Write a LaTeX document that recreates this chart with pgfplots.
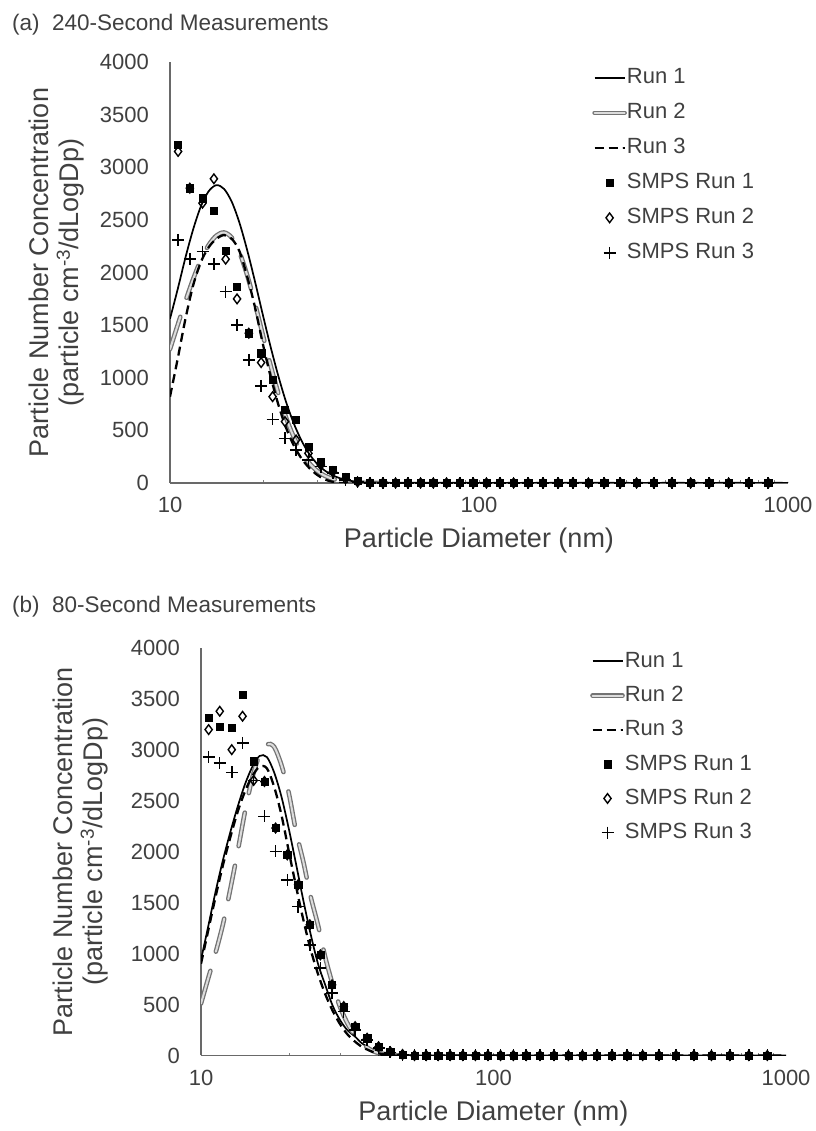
\documentclass[border=0pt]{standalone}
\usepackage{fontspec}
\setmainfont{Liberation Sans}
\usepackage{pgfplots}
\usepackage{pgfplotstable}
\pgfplotsset{compat=1.18}
\definecolor{txt}{RGB}{64,64,64}
\definecolor{axgray}{RGB}{105,105,105}
\definecolor{dashgray}{RGB}{115,115,115}
\definecolor{dashfill}{RGB}{220,220,220}

% model curves, 240 s (D in nm)
\pgfplotstableread{
D      r1    r2    r3
10.00  1560  1271  820
10.59  1841  1501  1180
11.22  2142  1728  1560
11.89  2412  1939  1880
12.59  2629  2121  2100
13.34  2772  2261  2240
14.13  2830  2350  2320
14.96  2794  2380  2355
15.85  2671  2331  2320
16.79  2470  2190  2200
17.78  2211  1973  1960
18.84  1914  1705  1670
19.95  1605  1414  1330
21.13  1302  1124  1020
22.39  1022  858   750
23.71  776   627   530
25.12  570   440   360
26.61  406   296   235
28.18  279   191   145
29.85  186   118   80
31.62  120   70    35
33.50  75    40    12
35.48  45    22    0
37.58  26    11    0
39.81  14    5     0
44.67  3     0     0
50.12  0     0     0
1000   0     nan   0
}\linesA

% SMPS, 240 s
\pgfplotstableread{
D      s1    s2    s3
10.62  3213  3150  2310
11.59  2801  2801  2129
12.74  2706  2659  2199
13.87  2585  2890  2079
15.14  2205  2126  1819
16.48  1866  1749  1502
17.99  1423  1423  1169
19.72  1233  1144  922
21.48  979   820   605
23.55  694   583   425
25.59  599   409   314
28.05  345   282   219
30.76  203   171   155
33.65  130   107   95
36.98  60    40    30
40.46  20    10    10
44.36  5     0     0
48.87  0     0     0
53.70  0     0     0
58.88  0     0     0
64.71  0     0     0
71.12  0     0     0
78.52  0     0     0
86.70  0     0     0
95.72  0     0     0
105.7  0     0     0
116.9  0     0     0
129.4  0     0     0
144.2  0     0     0
161.1  0     0     0
180.3  0     0     0
201.4  0     0     0
225.9  0     0     0
254.1  0     0     0
286.4  0     0     0
323.6  0     0     0
368.1  0     0     0
420.7  0     0     0
484.2  0     0     0
555.9  0     0     0
642.7  0     0     0
746.4  0     0     0
863.0  0     0     0
}\smpsA

% model curves, 80 s
\pgfplotstableread{
D      r1    r2    r3
10.00  940   510   900
10.59  1270  760   1230
11.22  1610  1010  1560
11.89  1920  1290  1870
12.59  2190  1630  2140
13.34  2440  2000  2390
14.13  2660  2390  2590
14.96  2830  2720  2740
15.85  2940  2950  2835
16.79  2930  3055  2820
17.78  2780  3030  2640
18.84  2540  2850  2360
19.95  2230  2580  2010
21.13  1880  2200  1660
22.39  1520  1900  1330
23.71  1190  1560  1040
25.12  900   1280  800
26.61  690   960   600
28.18  490   700   440
29.85  350   480   310
31.62  250   320   210
33.50  190   200   140
35.48  120   120   85
37.58  75    65    50
39.81  40    30    25
44.67  10    5     5
50.12  0     0     0
1000   0     nan   0
}\linesB

% SMPS, 80 s
\pgfplotstableread{
D      s1    s2    s3
10.62  3314  3199  2931
11.59  3231  3379  2872
12.74  3216  3002  2780
13.87  3543  3330  3068
15.14  2888  2700  2700
16.48  2690  2690  2347
17.99  2233  2233  2003
19.72  1970  1970  1725
21.48  1676  1676  1462
23.55  1283  1283  1086
25.59  988   988   860
28.05  693   693   614
30.76  480   480   430
33.65  283   283   250
36.98  169   169   150
40.46  86    86    75
44.36  37    37    30
48.87  10    10    5
53.70  0     0     0
58.88  0     0     0
64.71  0     0     0
71.12  0     0     0
78.52  0     0     0
86.70  0     0     0
95.72  0     0     0
105.7  0     0     0
116.9  0     0     0
129.4  0     0     0
144.2  0     0     0
161.1  0     0     0
180.3  0     0     0
201.4  0     0     0
225.9  0     0     0
254.1  0     0     0
286.4  0     0     0
323.6  0     0     0
368.1  0     0     0
420.7  0     0     0
484.2  0     0     0
555.9  0     0     0
642.7  0     0     0
746.4  0     0     0
863.0  0     0     0
}\smpsB

\pgfplotsset{
  legend image code/.code={\draw[mark repeat=2,mark phase=2,#1] plot coordinates {(0pt,0pt) (15pt,0pt) (30pt,0pt)};},
  run1/.style={black, line width=1.7pt, smooth, no markers},
  run2/.style={dashgray, line width=4.6pt, line cap=round, smooth, no markers,
    dash pattern=on 34pt off 20pt,
    postaction={draw=dashfill, line width=2pt, line cap=round, dash pattern=on 34pt off 20pt}},
  run3/.style={black, line width=2.3pt, smooth, no markers, dash pattern=on 9pt off 5pt},
  smps1/.style={only marks, mark=square*, mark size=3.6pt, black},
  smps2/.style={only marks, mark=diamond, mark size=4.8pt, black, mark options={line width=1.4pt}},
  smps3/.style={only marks, mark=+, mark size=6pt, black, mark options={line width=1.5pt}},
}

\begin{document}
\begin{tikzpicture}
\path[use as bounding box] (0pt,0pt) rectangle (815pt,1131pt);

\node[anchor=base west, font=\fontsize{22.5}{24}\selectfont, text=txt, inner sep=0pt] at (12pt,1100pt) {(a)\ \ 240-Second Measurements};
\node[anchor=base west, font=\fontsize{22.5}{24}\selectfont, text=txt, inner sep=0pt] at (12pt,518pt) {(b)\ \ 80-Second Measurements};

\pgfplotsset{
  every axis/.append style={
    scale only axis,
    xmin=10, xmax=1000,
    ymin=0, ymax=4000,
    xtick={10,100,1000}, xticklabels={10,100,1000},
    ytick={0,500,...,4000},
    axis x line*=bottom, axis y line*=left,
    axis line style={draw=axgray, line width=1.6pt, -},
    major tick length=0pt, minor tick num=0,
    /pgf/number format/assume math mode=true,
    /pgf/number format/1000 sep={},
    tick label style={font=\fontsize{22}{24}\selectfont, text=txt},
    yticklabel style={inner sep=0pt, anchor=east, xshift=-21pt},
    xticklabel style={anchor=center, yshift=-22pt},
    xlabel={Particle Diameter (nm)},
    ylabel={Particle Number Concentration\\(particle cm\textsuperscript{-3}/dLogDp)},
    label style={font=\fontsize{27}{30}\selectfont, text=txt},
    xlabel style={at={(axis description cs:0.5,0)}, anchor=center, yshift=-58pt},
    ylabel style={align=center, at={(axis description cs:0,0.5)}, anchor=center},
    legend cell align=left,
    legend style={draw=none, fill=none, inner sep=0pt,
      font=\fontsize{22}{24}\selectfont, text=txt,
      nodes={inner sep=0pt, text height=17pt, text depth=5pt},
      /tikz/every even column/.append style={column sep=3pt}},
  }
}

\begin{semilogxaxis}[at={(170pt,648pt)}, anchor=south west, width=618pt, height=421pt,
  ylabel style={yshift=113pt},
  legend style={at={(axis description cs:0.683,0.989)}, anchor=north west, row sep=13pt}]
\addplot[run1] table[x=D, y=r1] {\linesA};
\addlegendentry{Run 1}
\addplot[run2] table[x=D, y=r2] {\linesA};
\addlegendentry{Run 2}
\addplot[run3] table[x=D, y=r3] {\linesA};
\addlegendentry{Run 3}
\addplot[smps1] table[x=D, y=s1] {\smpsA};
\addlegendentry{SMPS Run 1}
\addplot[smps2] table[x=D, y=s2] {\smpsA};
\addlegendentry{SMPS Run 2}
\addplot[smps3] table[x=D, y=s3] {\smpsA};
\addlegendentry{SMPS Run 3}
\end{semilogxaxis}

\begin{semilogxaxis}[at={(201pt,75.5pt)}, anchor=south west, width=585pt, height=407.5pt,
  ylabel style={yshift=120pt},
  legend style={at={(axis description cs:0.665,0.995)}, anchor=north west, row sep=12.3pt}]
\addplot[run1] table[x=D, y=r1] {\linesB};
\addlegendentry{Run 1}
\addplot[run2] table[x=D, y=r2] {\linesB};
\addlegendentry{Run 2}
\addplot[run3] table[x=D, y=r3] {\linesB};
\addlegendentry{Run 3}
\addplot[smps1] table[x=D, y=s1] {\smpsB};
\addlegendentry{SMPS Run 1}
\addplot[smps2] table[x=D, y=s2] {\smpsB};
\addlegendentry{SMPS Run 2}
\addplot[smps3] table[x=D, y=s3] {\smpsB};
\addlegendentry{SMPS Run 3}
\end{semilogxaxis}
\end{tikzpicture}
\end{document}
